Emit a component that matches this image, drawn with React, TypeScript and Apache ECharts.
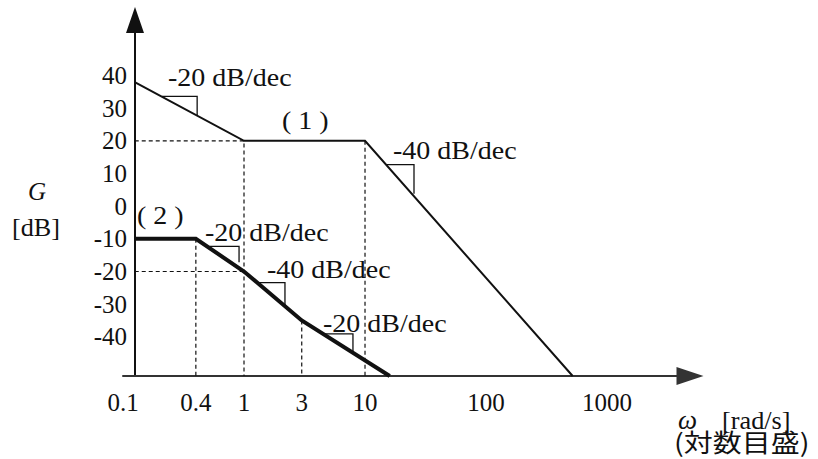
import React, { useEffect, useRef } from "react";
import * as echarts from "echarts";

// ---- data ----
const xTickValues = [0.1, 0.4, 1, 3, 10, 100, 1000];
const yTickValues = [40, 30, 20, 10, 0, -10, -20, -30, -40];

const curve1Omega = [0.125, 1, 10, 520];
const curve1Gain = [38, 20, 20, -52];
const curve2Omega = [0.125, 0.4, 1, 3, 16];
const curve2Gain = [-10, -10, -20, -35, -52];

const guide20 = [[0.125, 20], [1, 20], [1, -52]];
const guide10 = [[10, 20], [10, -52]];
const guideMinus20 = [[0.125, -20], [1, -20]];
const guide04 = [[0.4, -10], [0.4, -52]];
const guide3 = [[3, -35], [3, -52]];

const slope1 = [[0.21, 33.6], [0.41, 33.6], [0.41, 27.7]];
const slope2 = [[15.2, 12.7], [25.4, 12.7], [25.4, 3.8]];
const slope3 = [[0.52, -12.3], [0.91, -12.3], [0.91, -17.2]];
const slope4 = [[1.28, -23.4], [2.18, -23.4], [2.18, -30.7]];
const slope5 = [[4.5, -39.1], [7.95, -39.1], [7.95, -44.9]];

const slopeLabels = ["-20 dB/dec", "-40 dB/dec", "-20 dB/dec", "-40 dB/dec", "-20 dB/dec"];
const curveNames = ["( 1 )", "( 2 )"];

const xMin = 0.1;
const xMax = 4850;
const yMin = -52;
const yMax = 57;

const SERIF = "Liberation Serif";
const INK = "#111";

const zip = (xs: number[], ys: number[]) => xs.map((x, i) => [x, ys[i]]);

const lineSeries = (data: number[][], width: number, dashed = false) => ({
  type: "line",
  data,
  symbol: "none",
  showSymbol: false,
  silent: true,
  clip: false,
  animation: false,
  lineStyle: {
    color: INK,
    width,
    type: dashed ? [4, 3] : "solid",
    join: "miter",
    cap: "butt",
  },
});

const txt = (
  text: string,
  x: number,
  y: number,
  extra: Record<string, any> = {},
  scaleX = 1.12
) => ({
  type: "text",
  x,
  y,
  scaleX,
  silent: true,
  style: {
    text,
    fontSize: 25,
    fontFamily: SERIF,
    fill: INK,
    align: "left",
    verticalAlign: "middle",
    ...extra,
  },
});

export default function App() {
  const ref = useRef<HTMLDivElement>(null);

  useEffect(() => {
    document.body.style.margin = "0";
    const chart = echarts.init(ref.current!, null, { renderer: "svg" });

    const option: any = {
      animation: false,
      backgroundColor: "#fff",
      grid: { left: 123, right: 128, top: 20, bottom: 83 },
      xAxis: {
        type: "log",
        logBase: 10,
        min: xMin,
        max: xMax,
        axisLine: {
          show: true,
          onZero: false,
          symbol: ["none", "triangle"],
          symbolSize: [18, 27],
          lineStyle: { color: "#333", width: 2 },
        },
        axisTick: { show: false },
        splitLine: { show: false },
        minorTick: { show: false },
        axisLabel: {
          customValues: xTickValues,
          formatter: (v: number) => String(Math.round(v * 1000) / 1000),
          fontFamily: SERIF,
          fontSize: 25,
          color: INK,
          margin: 14,
          showMinLabel: true,
          showMaxLabel: true,
        },
      },
      yAxis: {
        type: "value",
        min: yMin,
        max: yMax,
        offset: -12,
        axisLine: {
          show: true,
          onZero: false,
          symbol: ["none", "triangle"],
          symbolSize: [18, 26],
          lineStyle: { color: INK, width: 2 },
        },
        axisTick: { show: false },
        splitLine: { show: false },
        axisLabel: {
          customValues: yTickValues,
          fontFamily: SERIF,
          fontSize: 25,
          color: INK,
          margin: 8,
        },
      },
      series: [
        lineSeries(guide20, 1.2, true),
        lineSeries(guide10, 1.2, true),
        lineSeries(guideMinus20, 1.2, true),
        lineSeries(guide04, 1.2, true),
        lineSeries(guide3, 1.2, true),
        lineSeries(slope1, 1.3),
        lineSeries(slope2, 1.3),
        lineSeries(slope3, 1.3),
        lineSeries(slope4, 1.3),
        lineSeries(slope5, 1.3),
        lineSeries(zip(curve1Omega, curve1Gain), 2),
        lineSeries(zip(curve2Omega, curve2Gain), 4),
      ],
      graphic: [
        txt(slopeLabels[0], 168, 78),
        txt(curveNames[0], 282, 121),
        txt(slopeLabels[1], 393, 151),
        txt(curveNames[1], 137, 216),
        txt(slopeLabels[2], 205, 233),
        txt(slopeLabels[3], 267, 270),
        txt(slopeLabels[4], 323, 324),
        txt("G", 28, 191, { fontStyle: "italic" }, 1),
        txt("[dB]", 12, 228, {}, 1.05),
        txt("ω", 678, 420, { fontStyle: "italic", fontSize: 27 }, 1),
        txt("[rad/s]", 722, 421, {}, 1.05),
        txt("(対数目盛)", 674, 441, { fontFamily: "Noto Sans CJK JP", fontSize: 25 }, 1.16),
      ],
    };

    chart.setOption(option);
    return () => chart.dispose();
  }, []);

  return <div ref={ref} style={{ width: 818, height: 459 }} />;
}
